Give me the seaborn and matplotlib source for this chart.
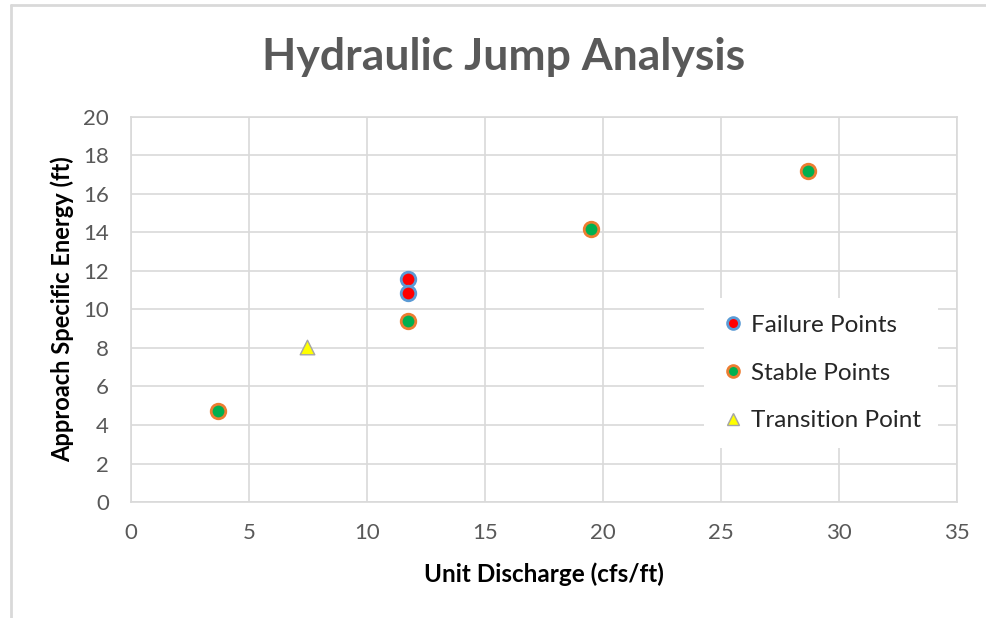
import pandas as pd
import seaborn as sns
import matplotlib.pyplot as plt
from matplotlib.lines import Line2D

failure_x = [11.75, 11.75]
failure_y = [11.6, 10.85]
stable_x = [3.7, 11.75, 19.5, 28.7]
stable_y = [4.75, 9.4, 14.2, 17.2]
transition_x = [7.45]
transition_y = [8.05]

x_ticks = [0, 5, 10, 15, 20, 25, 30, 35]
y_ticks = [0, 2, 4, 6, 8, 10, 12, 14, 16, 18, 20]

sns.set_style('white')
plt.rcParams['font.family'] = ['Lato', 'DejaVu Sans']

fig = plt.figure(figsize=(9.86, 6.18), dpi=100)
ax = fig.add_axes([0.1329, 0.1877, 0.8377, 0.623])

fail = pd.DataFrame({'x': failure_x, 'y': failure_y})
stab = pd.DataFrame({'x': stable_x, 'y': stable_y})
trans = pd.DataFrame({'x': transition_x, 'y': transition_y})

sns.scatterplot(data=fail, x='x', y='y', ax=ax, marker='o', s=110, color='#FF0000',
                edgecolor='#5B9BD5', linewidth=2, label='Failure Points', zorder=3)
sns.scatterplot(data=stab, x='x', y='y', ax=ax, marker='o', s=110, color='#00B050',
                edgecolor='#ED7D31', linewidth=2, label='Stable Points', zorder=3)
sns.scatterplot(data=trans, x='x', y='y', ax=ax, marker='^', s=110, color='#FFFF00',
                edgecolor='#A5A5A5', linewidth=1, label='Transition Point', zorder=3)

ax.set_xlim(0, 35)
ax.set_ylim(0, 20)
ax.set_xticks(x_ticks)
ax.set_yticks(y_ticks)
ax.grid(True, color='#D9D9D9', linewidth=1.2)
ax.set_axisbelow(True)
for sp in ax.spines.values():
    sp.set_color('#D9D9D9')
    sp.set_linewidth(1.2)
ax.tick_params(axis='both', length=0, labelsize=16, labelcolor='#595959')
ax.tick_params(axis='x', pad=15)
ax.tick_params(axis='y', pad=16)

ax.set_xlabel('Unit Discharge (cfs/ft)', fontsize=17.5, fontweight='bold', color='#000000', labelpad=14)
ax.set_ylabel('Approach Specific Energy (ft)', fontsize=17, fontweight='bold', color='#000000', labelpad=6)

fig.text(0.511, 0.907, 'Hydraulic Jump Analysis', ha='center', va='center',
         fontsize=32, fontweight='bold', color='#595959')

handles = [
    Line2D([], [], marker='o', linestyle='', markersize=8.5, markerfacecolor='#FF0000',
           markeredgecolor='#5B9BD5', markeredgewidth=2),
    Line2D([], [], marker='o', linestyle='', markersize=8.5, markerfacecolor='#00B050',
           markeredgecolor='#ED7D31', markeredgewidth=2),
    Line2D([], [], marker='^', linestyle='', markersize=9, markerfacecolor='#FFFF00',
           markeredgecolor='#A5A5A5', markeredgewidth=1),
]
leg = ax.legend(handles, ['Failure Points', 'Stable Points', 'Transition Point'],
                loc='center left', bbox_to_anchor=(0.679, 0.335), frameon=True,
                fontsize=17.5, labelspacing=1.1, handletextpad=0.25, handlelength=1.0,
                borderpad=0.7, framealpha=1)
leg.get_frame().set_edgecolor('white')
leg.get_frame().set_linewidth(0)
for t in leg.get_texts():
    t.set_color('#262626')

# outer chart border (top and left only visible)
fig.add_artist(Line2D([0.011, 1.0], [0.992, 0.992], color='#D9D9D9', linewidth=2))
fig.add_artist(Line2D([0.011, 0.011], [0.0, 0.992], color='#D9D9D9', linewidth=2))

fig.savefig('out.png', dpi=100, facecolor='white')
